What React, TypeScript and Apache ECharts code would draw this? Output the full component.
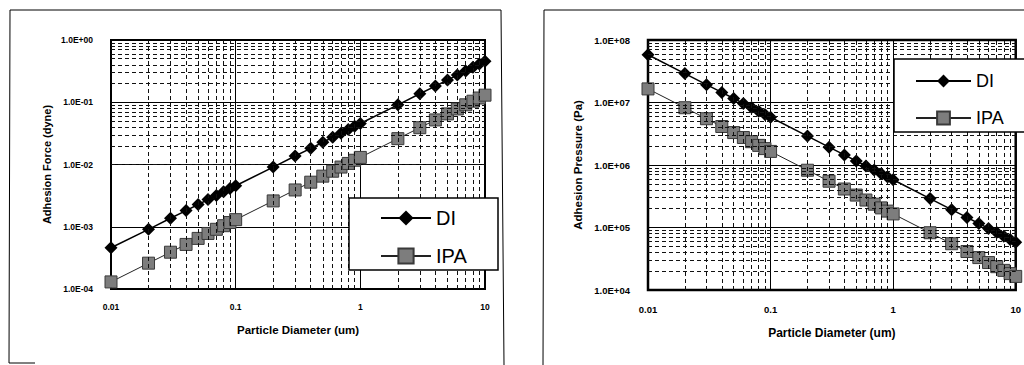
import React, { useEffect, useRef } from "react";
import * as echarts from "echarts";

// ---- data ----
const diameters = [0.01, 0.02, 0.03, 0.04, 0.05, 0.06, 0.07, 0.08, 0.09, 0.1, 0.2, 0.3, 0.4, 0.5, 0.6, 0.7, 0.8, 0.9, 1, 2, 3, 4, 5, 6, 7, 8, 9, 10];
const forceDI = [4.6e-4, 9.1e-4, 1.37e-3, 1.82e-3, 2.28e-3, 2.73e-3, 3.19e-3, 3.64e-3, 4.1e-3, 4.55e-3, 9.1e-3, 1.37e-2, 1.82e-2, 2.28e-2, 2.73e-2, 3.19e-2, 3.64e-2, 4.1e-2, 4.55e-2, 9.1e-2, 0.137, 0.182, 0.228, 0.273, 0.319, 0.364, 0.41, 0.455];
const forceIPA = [1.3e-4, 2.6e-4, 3.9e-4, 5.2e-4, 6.5e-4, 7.8e-4, 9.1e-4, 1.04e-3, 1.17e-3, 1.3e-3, 2.6e-3, 3.9e-3, 5.2e-3, 6.5e-3, 7.8e-3, 9.1e-3, 1.04e-2, 1.17e-2, 1.3e-2, 2.6e-2, 3.9e-2, 5.2e-2, 6.5e-2, 7.8e-2, 9.1e-2, 0.104, 0.117, 0.13];
const pressureDI = [5.8e7, 2.9e7, 1.93e7, 1.45e7, 1.16e7, 9.67e6, 8.29e6, 7.25e6, 6.44e6, 5.8e6, 2.9e6, 1.93e6, 1.45e6, 1.16e6, 9.67e5, 8.29e5, 7.25e5, 6.44e5, 5.8e5, 2.9e5, 1.93e5, 1.45e5, 1.16e5, 9.67e4, 8.29e4, 7.25e4, 6.44e4, 5.8e4];
const pressureIPA = [1.65e7, 8.25e6, 5.5e6, 4.13e6, 3.3e6, 2.75e6, 2.36e6, 2.06e6, 1.83e6, 1.65e6, 8.25e5, 5.5e5, 4.13e5, 3.3e5, 2.75e5, 2.36e5, 2.06e5, 1.83e5, 1.65e5, 8.25e4, 5.5e4, 4.13e4, 3.3e4, 2.75e4, 2.36e4, 2.06e4, 1.83e4, 1.65e4];

const xTickLabels = ["0.01", "0.1", "1", "10"];
const forceTickLabels = ["1.0E-04", "1.0E-03", "1.0E-02", "1.0E-01", "1.0E+00"];
const pressureTickLabels = ["1.0E+04", "1.0E+05", "1.0E+06", "1.0E+07", "1.0E+08"];

const minorX = [0.02, 0.03, 0.04, 0.05, 0.06, 0.07, 0.08, 0.09, 0.2, 0.3, 0.4, 0.5, 0.6, 0.7, 0.8, 0.9, 2, 3, 4, 5, 6, 7, 8, 9];
const minorForce = [2e-4, 3e-4, 4e-4, 5e-4, 6e-4, 7e-4, 8e-4, 9e-4, 2e-3, 3e-3, 4e-3, 5e-3, 6e-3, 7e-3, 8e-3, 9e-3, 2e-2, 3e-2, 4e-2, 5e-2, 6e-2, 7e-2, 8e-2, 9e-2, 0.2, 0.3, 0.4, 0.5, 0.6, 0.7, 0.8, 0.9];
const minorPressure = [2e4, 3e4, 4e4, 5e4, 6e4, 7e4, 8e4, 9e4, 2e5, 3e5, 4e5, 5e5, 6e5, 7e5, 8e5, 9e5, 2e6, 3e6, 4e6, 5e6, 6e6, 7e6, 8e6, 9e6, 2e7, 3e7, 4e7, 5e7, 6e7, 7e7, 8e7, 9e7];

const FONT = "'Liberation Sans', Arial, sans-serif";

function pairs(xs: number[], ys: number[]) {
  return xs.map((x, i) => [x, ys[i]]);
}

function labelFrom(labels: string[], minExp: number) {
  return (v: number) => {
    const i = Math.round(Math.log10(v)) - minExp;
    return labels[i] ?? "";
  };
}

export default function App() {
  const ref = useRef<HTMLDivElement>(null);
  useEffect(() => {
    if (!ref.current) return;
    const chart = echarts.init(ref.current, undefined, { renderer: "svg" });
    const dashed = { type: [4, 3] as any, color: "#111", width: 1 };

    const xAxisBase = (gridIndex: number, fs: number, margin: number, nameFs: number, nameGap: number) => ({
      type: "log",
      gridIndex,
      logBase: 10,
      min: 0.01,
      max: 10,
      axisLine: { show: false },
      axisTick: { show: false },
      splitLine: { show: true, lineStyle: { color: "#000", width: 1 } },
      axisLabel: { formatter: labelFrom(xTickLabels, -2), fontFamily: FONT, fontSize: fs, fontWeight: "bold", color: "#000", margin },
      name: "Particle Diameter (um)",
      nameLocation: "middle",
      nameGap,
      nameTextStyle: { fontFamily: FONT, fontSize: nameFs, fontWeight: "bold", color: "#000" },
    });

    const yAxisBase = (gridIndex: number, min: number, max: number, labels: string[], minExp: number, name: string, fs: number, nameFs: number, nameGap: number) => ({
      type: "log",
      gridIndex,
      logBase: 10,
      min,
      max,
      axisLine: { show: false },
      axisTick: { show: false },
      splitLine: { show: true, lineStyle: { color: "#000", width: 1 } },
      axisLabel: { formatter: labelFrom(labels, minExp), fontFamily: FONT, fontSize: fs, fontWeight: "bold", color: "#000", margin: 18 },
      name,
      nameLocation: "middle",
      nameGap,
      nameRotate: 90,
      nameTextStyle: { fontFamily: FONT, fontSize: nameFs, fontWeight: "bold", color: "#000" },
    });

    const minorSeries = (idx: number, ys: number[], anchor: number[]) => ({
      type: "line",
      name: "minor" + idx,
      xAxisIndex: idx,
      yAxisIndex: idx,
      data: [anchor],
      symbolSize: 0,
      showSymbol: false,
      silent: true,
      z: 1,
      markLine: {
        silent: true,
        symbol: ["none", "none"],
        label: { show: false },
        lineStyle: dashed,
        animation: false,
        data: [...minorX.map((v) => ({ xAxis: v })), ...ys.map((v) => ({ yAxis: v }))],
      },
    });

    const diStyle = (idx: number, ys: number[]) => ({
      type: "line",
      name: "DI",
      xAxisIndex: idx,
      yAxisIndex: idx,
      data: pairs(diameters, ys),
      symbol: "diamond",
      symbolSize: 13,
      lineStyle: { color: "#000", width: 1.5 },
      itemStyle: { color: "#000", borderColor: "#000", borderWidth: 0 },
      z: 3,
    });
    const ipaStyle = (idx: number, ys: number[]) => ({
      type: "line",
      name: "IPA",
      xAxisIndex: idx,
      yAxisIndex: idx,
      data: pairs(diameters, ys),
      symbol: "rect",
      symbolSize: 12,
      lineStyle: { color: "#222", width: 1 },
      itemStyle: { color: "#7d7d7d", borderColor: "#3a3a3a", borderWidth: 1 },
      z: 3,
    });

    const legendBase = {
      orient: "vertical",
      data: ["DI", "IPA"],
      padding: 0,
      backgroundColor: "transparent",
      borderWidth: 0,
      selectedMode: false,
      z: 20,
    };

    chart.setOption({
      animation: false,
      backgroundColor: "#fff",
      grid: [
        { left: 111, top: 40, width: 374, height: 249, show: true, borderColor: "#000", borderWidth: 2, backgroundColor: "transparent" },
        { left: 648, top: 40, width: 369, height: 250, show: true, borderColor: "#000", borderWidth: 2.5, backgroundColor: "transparent" },
      ],
      xAxis: [xAxisBase(0, 8.5, 13, 11.5, 35), xAxisBase(1, 9.5, 14, 12, 37)],
      yAxis: [
        yAxisBase(0, 1e-4, 1, forceTickLabels, -4, "Adhesion Force (dyne)", 8.5, 11, 59),
        yAxisBase(1, 1e4, 1e8, pressureTickLabels, 4, "Adhesion Pressure (Pa)", 9.5, 11.5, 64),
      ],
      legend: [
        { ...legendBase, left: 380, top: 208, itemWidth: 50, itemHeight: 19, itemGap: 18, textStyle: { fontFamily: FONT, fontSize: 20, lineHeight: 19, color: "#000" } },
        { ...legendBase, left: 915, top: 72, itemWidth: 55, itemHeight: 16, itemGap: 19, textStyle: { fontFamily: FONT, fontSize: 18, lineHeight: 16, color: "#000" } },
      ],
      series: [
        minorSeries(0, minorForce, [0.01, 1e-4]),
        minorSeries(1, minorPressure, [0.01, 1e4]),
        ipaStyle(0, forceIPA),
        diStyle(0, forceDI),
        ipaStyle(1, pressureIPA),
        diStyle(1, pressureDI),
      ],
      graphic: [
        { type: "rect", z: 10, shape: { x: 349, y: 198, width: 149, height: 72 }, style: { fill: "#fff", stroke: "#000", lineWidth: 1.5 } },
        { type: "rect", z: 10, shape: { x: 894, y: 59, width: 200, height: 73 }, style: { fill: "#fff", stroke: "#000", lineWidth: 1.5 } },
        { type: "line", shape: { x1: 10, y1: 10, x2: 501, y2: 10 }, style: { stroke: "#000", lineWidth: 1 } },
        { type: "line", shape: { x1: 10, y1: 10, x2: 9, y2: 363 }, style: { stroke: "#000", lineWidth: 1 } },
        { type: "line", shape: { x1: 501, y1: 10, x2: 504, y2: 365 }, style: { stroke: "#000", lineWidth: 1 } },
        { type: "line", shape: { x1: 9, y1: 363, x2: 35, y2: 363 }, style: { stroke: "#000", lineWidth: 1 } },
        { type: "line", shape: { x1: 544, y1: 10, x2: 1024, y2: 10 }, style: { stroke: "#000", lineWidth: 1 } },
        { type: "line", shape: { x1: 544, y1: 10, x2: 543, y2: 365 }, style: { stroke: "#000", lineWidth: 1 } },
      ],
    });
    return () => chart.dispose();
  }, []);
  return <div ref={ref} style={{ position: "fixed", left: 0, top: 0, width: 1024, height: 365 }} />;
}
